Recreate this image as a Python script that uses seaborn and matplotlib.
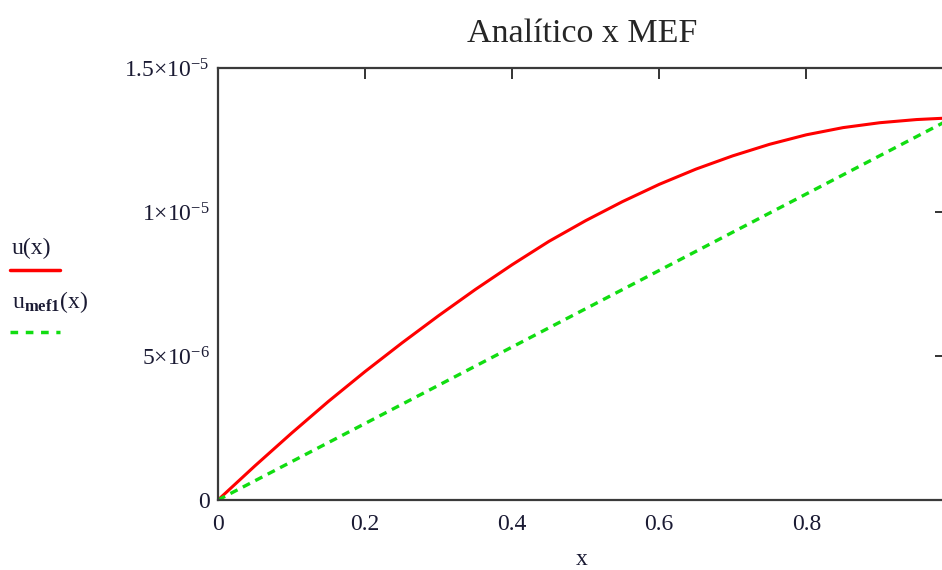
import numpy as np
import pandas as pd
import matplotlib
matplotlib.use('Agg')
import matplotlib.pyplot as plt
import seaborn as sns
from matplotlib.lines import Line2D

# valores (u em unidades de 1e-5)
x_analitico = [0.0, 0.05, 0.1, 0.15, 0.2, 0.25, 0.3, 0.35, 0.4, 0.45, 0.5,
               0.55, 0.6, 0.65, 0.7, 0.75, 0.8, 0.85, 0.9, 0.95, 0.99]
u_analitico = [0.0, 0.118, 0.232, 0.342, 0.446, 0.545, 0.640, 0.731, 0.817,
               0.898, 0.970, 1.036, 1.096, 1.149, 1.195, 1.235, 1.268, 1.293,
               1.310, 1.321, 1.326]
x_mef = [0.0, 0.99]
u_mef = [0.0, 1.315]

yticks = [0, 0.5e-5, 1e-5, 1.5e-5]
ytick_labels = ['0', r'5$\times$10$^{-6}$', r'1$\times$10$^{-5}$', r'1.5$\times$10$^{-5}$']
xticks = [0, 0.2, 0.4, 0.6, 0.8]
xtick_labels = ['0', '0.2', '0.4', '0.6', '0.8']

sns.set_style("white")
plt.rcParams['font.family'] = ['Liberation Serif', 'DejaVu Serif']
plt.rcParams['mathtext.fontset'] = 'custom'
plt.rcParams['mathtext.rm'] = 'Liberation Serif'
plt.rcParams['mathtext.it'] = 'Liberation Serif'
plt.rcParams['mathtext.bf'] = 'Liberation Serif:bold'

df_a = pd.DataFrame({'x': x_analitico, 'u': np.array(u_analitico) * 1e-5})
df_m = pd.DataFrame({'x': x_mef, 'u': np.array(u_mef) * 1e-5})

fig = plt.figure(figsize=(9.42, 5.70), dpi=100)
ax = fig.add_axes([218 / 942, 70 / 570, (946 - 218) / 942, 432 / 570])

sns.lineplot(data=df_a, x='x', y='u', ax=ax, color='#ff0000', linewidth=2.2)
sns.lineplot(data=df_m, x='x', y='u', ax=ax, color='#11dd11', linewidth=2.4,
             linestyle=(0, (2.4, 1.8)))

ax.set_xlim(0, 0.99)
ax.set_ylim(0, 1.5e-5)
ax.set_xticks(xticks)
ax.set_xticklabels(xtick_labels)
ax.set_yticks(yticks)
ax.set_yticklabels(ytick_labels)
ax.tick_params(direction='in', length=8, width=1.4, color='#333333',
               labelsize=17, top=True, right=True, pad=6, labelcolor='#1a1a33')
ax.tick_params(axis='x', pad=10)
for sp in ax.spines.values():
    sp.set_color('#3a3a3a')
    sp.set_linewidth(1.6)

ax.set_xlabel('x', fontsize=17, labelpad=10, color='#1a1a33')
ax.set_ylabel('')
ax.set_title('Analítico x MEF', fontsize=24.5, pad=19)

# legenda à esquerda, estilo Mathcad
fig.text(12 / 942, 1 - 254 / 570, 'u(x)', fontsize=17, color='#1a1a33')
fig.add_artist(Line2D([10 / 942, 60 / 942], [1 - 270 / 570, 1 - 270 / 570],
                      color='#ff0000', linewidth=2.5, transform=fig.transFigure))
fig.text(12 / 942, 1 - 308 / 570, r'u$_{\mathbf{mef1}}$(x)', fontsize=17, color='#1a1a33')
fig.add_artist(Line2D([10 / 942, 60 / 942], [1 - 332 / 570, 1 - 332 / 570],
                      color='#11dd11', linewidth=2.5, linestyle=(0, (2.2, 2.2)),
                      transform=fig.transFigure))

fig.savefig('out.png', dpi=100)
